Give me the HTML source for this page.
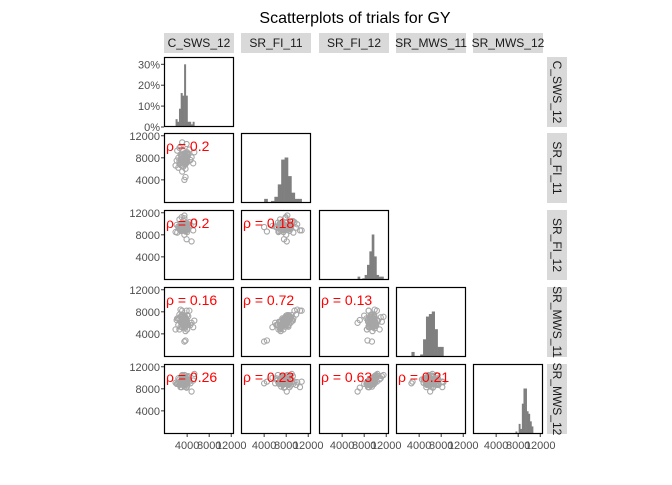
<!DOCTYPE html>
<html><head><meta charset="utf-8"><style>
body{margin:0;background:#fff;font-family:"Liberation Sans",Arial,sans-serif}
svg text{font-family:"Liberation Sans",Arial,sans-serif}
</style></head><body>
<svg id="c" width="672" height="480" viewBox="0 0 672 480">
<text x="355" y="23" text-anchor="middle" font-size="16" fill="#000">Scatterplots of trials for GY</text>
</svg>
<script>
const varNames = ["C_SWS_12","SR_FI_11","SR_FI_12","SR_MWS_11","SR_MWS_12"];
const vA = [35,51,40,31,35,40,44,40,37,42,35,37,33,39,37,31,26,37,33,42,19,35,33,35,48,28,24,28,26,30,26,33,46,53,28,30,37,39,33,39,31,22,21,37,30,33,35,31,24,39,
 33,37,31,35,39,33,30,37,35,31,40,33,35,37,28,35,33,39,31,37,35,33,30,39,35,37,31,33,40,35];
const vB = [78,70,88,65,82,75,95,72,60,85,80,68,92,76,84,55,98,74,79,87,66,83,77,71,81,100,62,78,73,86,69,82,76,90,67,79,45,105,64,83,74,93,75,70,85,77,40,108,80,81,
 76,82,71,88,79,74,85,69,80,77,90,73,83,78,86,72,81,75,84,79,70,87,76,82,74,89,78,80,73,85];
const vC = [110,88,91,102,115,85,103,101,95,99,80,100,105,72,97,96,93,100,97,91,85,93,95,94,68,99,94,89,90,87,108,92,97,104,87,112,86,88,92,96,98,84,98,95,93,97,94,88,95,96,
 94,97,90,99,93,96,91,100,95,92,98,94,89,96,93,101,95,90,97,94,99,92,96,93,88,98,95,91,97,94];
const vD = [70,52,60,57,71,48,82,56,60,57,73,61,64,65,53,52,75,63,57,72,48,71,60,62,60,84,56,53,68,65,48,74,56,64,62,62,28,82,56,55,66,68,65,45,74,59,26,82,67,58,
 60,68,52,70,64,55,66,56,69,58,74,59,62,65,71,54,61,57,73,60,50,67,63,66,54,70,57,64,58,69];
const vE = [99,95,86,105,105,91,93,102,90,103,89,93,103,82,88,100,87,104,91,95,91,87,94,84,75,92,99,83,92,83,97,99,90,107,89,103,93,83,95,89,101,89,89,97,88,101,90,93,90,98,
 92,95,90,96,94,93,89,99,95,91,96,92,88,97,90,99,94,90,95,93,98,91,94,95,87,96,93,90,98,92];
const corrLabels = [[],["0.2"],["0.2","0.18"],["0.16","0.72","0.13"],["0.26","0.23","0.63","0.21"]];
const axisTicks = [4000,8000,12000];
const pctTicks = [0,10,20,30];
const data=[vA,vB,vC,vD,vE].map(a=>a.map(v=>v*100));
const svg=document.getElementById('c');const NS="http://www.w3.org/2000/svg";
function el(t,a,p){const e=document.createElementNS(NS,t);for(const k in a)e.setAttribute(k,a[k]);(p||svg).appendChild(e);return e;}
const colX=[164,241,319,396,473], rowY=[57,133,210,287,364], S=70;
const dmin=-200,dmax=12500;
const sx=(v,c)=>colX[c]+(v-dmin)/(dmax-dmin)*S;
const sy=(v,r)=>rowY[r]+S-(v-dmin)/(dmax-dmin)*S;
varNames.forEach((n,i)=>{
 const g=el('g',{});
 
 
 el('rect',{x:colX[i],y:33,width:S,height:20,fill:'#d9d9d9'},g);
 const t=el('text',{x:colX[i]+S/2,y:47,'text-anchor':'middle','font-size':12,fill:'#1a1a1a'},g);t.textContent=n;
 const g2=el('g',{});
 
 
 el('rect',{x:547,y:rowY[i],width:20,height:S,fill:'#d9d9d9'},g2);
 const t2=el('text',{x:553,y:rowY[i]+S/2,'text-anchor':'middle','font-size':12,fill:'#1a1a1a',transform:`rotate(90 553 ${rowY[i]+S/2})`},g2);t2.textContent=n;
});
const cp=el('defs',{});
for(let r=0;r<5;r++)for(let c=0;c<=r;c++){
 const id='cl'+r+c;const cl=el('clipPath',{id},cp);el('rect',{x:colX[c],y:rowY[r],width:S,height:S},cl);
 const g=el('g',{'clip-path':`url(#${id})`});
 if(r===c){
  
  
  const vals=data[c];const mn=Math.min(...vals),mx=Math.max(...vals);const nb=11;const bw=(mx-mn)/nb;
  const counts=new Array(nb).fill(0);vals.forEach(v=>{counts[Math.min(nb-1,Math.floor((v-mn)/bw))]++;});
  const maxC=Math.max(...counts);
  counts.forEach((k,b)=>{
   let h;
   if(c===0)h=(k/vals.length)/0.335*S; else h=k/maxC*0.65*S;
   const x0=sx(mn+b*bw,c),x1=sx(mn+(b+1)*bw,c);
   const rc=el('rect',{x:x0,y:rowY[r]+S-h,width:x1-x0+0.3,height:h,fill:'#7f7f7f'},g);
   
   
  });
 } else {
  
  
  data[c].forEach((xv,i)=>{
   const p=el('circle',{cx:sx(xv,c),cy:sy(data[r][i],r),r:2.6,fill:'none',stroke:'#a6a6a6','stroke-width':1.1},g);
   
   
  });
  const t=el('text',{x:colX[c]+2,y:rowY[r]+18,'font-size':14,fill:'#ff0000'},g);
  
  
  t.textContent='ρ = '+corrLabels[r][c];
 }
 const b=el('rect',{x:colX[c]+0.5,y:rowY[r]+0.5,width:S-1,height:S-1,fill:'none',stroke:'#000','stroke-width':1.2});
 
 
}
pctTicks.forEach(p=>{
 const y=rowY[0]+S-(p/100)/0.335*S;
 el('line',{x1:161,x2:164,y1:y,y2:y,stroke:'#333'});
 const t=el('text',{x:160,y:y+4,'text-anchor':'end','font-size':11,fill:'#4d4d4d'});
 
 
 t.textContent=p+'%';
});
for(let r=1;r<5;r++)axisTicks.forEach(v=>{
 const y=sy(v,r);
 el('line',{x1:161,x2:164,y1:y,y2:y,stroke:'#333'});
 const t=el('text',{x:160,y:y+4,'text-anchor':'end','font-size':11,fill:'#4d4d4d'});
 
 
 t.textContent=v;
});
for(let c=0;c<5;c++)axisTicks.forEach(v=>{
 const x=sx(v,c);
 el('line',{x1:x,x2:x,y1:434,y2:437,stroke:'#333'});
 const t=el('text',{x:x,y:449,'text-anchor':'middle','font-size':11,fill:'#4d4d4d'});
 
 
 t.textContent=v;
});
</script>
</body></html>
